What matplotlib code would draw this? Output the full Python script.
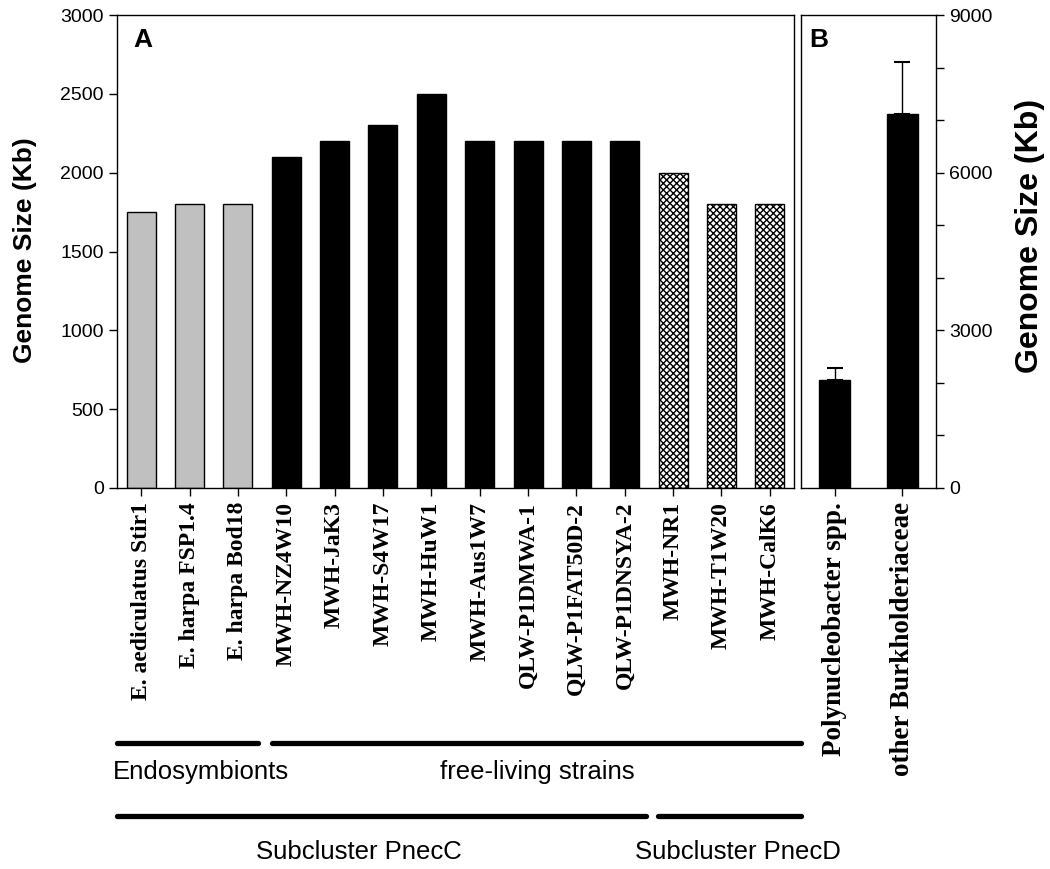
import matplotlib
matplotlib.use("Agg")
import matplotlib.pyplot as plt
from matplotlib.lines import Line2D
from matplotlib.ticker import MultipleLocator
import matplotlib.transforms as mtransforms

# panel A: single strains
strains = ["E. aediculatus Stir1", "E. harpa FSP1.4", "E. harpa Bod18",
           "MWH-NZ4W10", "MWH-JaK3", "MWH-S4W17", "MWH-HuW1", "MWH-Aus1W7",
           "QLW-P1DMWA-1", "QLW-P1FAT50D-2", "QLW-P1DNSYA-2",
           "MWH-NR1", "MWH-T1W20", "MWH-CalK6"]
genome_kb = [1750, 1800, 1800, 2100, 2200, 2300, 2500, 2200, 2200, 2200, 2200,
             2000, 1800, 1800]
group = ["endo", "endo", "endo", "free", "free", "free", "free", "free",
         "free", "free", "free", "pnecd", "pnecd", "pnecd"]

# panel B: averages
taxa = ["Polynucleobacter spp.", "other Burkholderiaceae"]
taxa_kb = [2060, 7120]
taxa_err = [230, 990]

W, H = 1050, 869
fig = plt.figure(figsize=(W / 100, H / 100), dpi=100)

def px_axes(x0, y0, x1, y1):
    return fig.add_axes([x0 / W, 1 - y1 / H, (x1 - x0) / W, (y1 - y0) / H])

axA = px_axes(117, 15, 794, 488)
axB = px_axes(801, 15, 936, 488)

x = list(range(len(strains)))
for i, (v, g) in enumerate(zip(genome_kb, group)):
    if g == "endo":
        axA.bar(i, v, width=0.6, color="#c0c0c0", edgecolor="black", linewidth=1)
    elif g == "free":
        axA.bar(i, v, width=0.6, color="black", edgecolor="black", linewidth=1)
    else:
        axA.bar(i, v, width=0.6, color="white", edgecolor="black", linewidth=1,
                hatch="xxxxx")

axA.set_xlim(-0.5, len(strains) - 0.5)
axA.set_ylim(0, 3000)
axA.yaxis.set_major_locator(MultipleLocator(500))
axA.set_xticks(x)
axA.set_xticklabels(strains, rotation=90, family="Liberation Serif",
                    weight="bold", size=17)
axA.tick_params(direction="out", length=6, width=1)
axA.tick_params(axis="x", pad=4)
for lab in axA.get_yticklabels():
    lab.set_fontfamily("Liberation Sans")
    lab.set_fontsize(14)
axA.text(0.024, 0.972, "A", transform=axA.transAxes, ha="left", va="top",
         family="Liberation Sans", weight="bold", size=19)

xb = [0, 1]
axB.bar(xb, taxa_kb, width=0.46, color="black", edgecolor="black")
axB.errorbar(xb, taxa_kb, yerr=[[0, 0], taxa_err], fmt="none", ecolor="black",
             elinewidth=1, capsize=5.5, capthick=1.5)
axB.set_xlim(-0.5, 1.5)
axB.set_ylim(0, 9000)
axB.yaxis.tick_right()
axB.yaxis.set_major_locator(MultipleLocator(3000))
axB.yaxis.set_minor_locator(MultipleLocator(1000))
axB.set_xticks(xb)
axB.set_xticklabels(taxa, rotation=90, family="Liberation Serif",
                    weight="bold", size=19.5)
axB.tick_params(direction="out", length=6, width=1)
axB.tick_params(which="minor", direction="out", length=6, width=1)
axB.tick_params(axis="x", pad=4)
for lab in axB.get_yticklabels():
    lab.set_fontfamily("Liberation Sans")
    lab.set_fontsize(14)
axB.text(0.06, 0.972, "B", transform=axB.transAxes, ha="left", va="top",
         family="Liberation Sans", weight="bold", size=19)

for ax in (axA, axB):
    for s in ax.spines.values():
        s.set_linewidth(1)

fig.text(25 / W, 1 - 250 / H, "Genome Size (Kb)", rotation=90, ha="center",
         va="center", family="Liberation Sans", weight="bold", size=19)
fig.text(1030 / W, 1 - 236 / H, "Genome Size (Kb)", rotation=90, ha="center",
         va="center", family="Liberation Sans", weight="bold", size=23)

# group brackets below panel A
trans = mtransforms.blended_transform_factory(axA.transData, fig.transFigure)
brackets = [(-0.49, 2.41, 1 - 743 / H), (2.7, 13.64, 1 - 743 / H),
            (-0.51, 10.43, 1 - 816 / H), (10.68, 13.64, 1 - 816 / H)]
for x0, x1, yy in brackets:
    fig.add_artist(Line2D([x0, x1], [yy, yy], transform=trans, color="black",
                          linewidth=3.8, solid_capstyle="round"))

lab_font = dict(family="Liberation Sans", size=18.5)
fig.text(-0.58, 1 - 772 / H, "Endosymbionts", transform=trans, ha="left",
         va="center", **lab_font)
fig.text(8.2, 1 - 772 / H, "free-living strains", transform=trans,
         ha="center", va="center", **lab_font)
fig.text(4.5, 1 - 852 / H, "Subcluster PnecC", transform=trans, ha="center",
         va="center", **lab_font)
fig.text(12.35, 1 - 852 / H, "Subcluster PnecD", transform=trans, ha="center",
         va="center", **lab_font)

fig.savefig("out.png", dpi=100)
